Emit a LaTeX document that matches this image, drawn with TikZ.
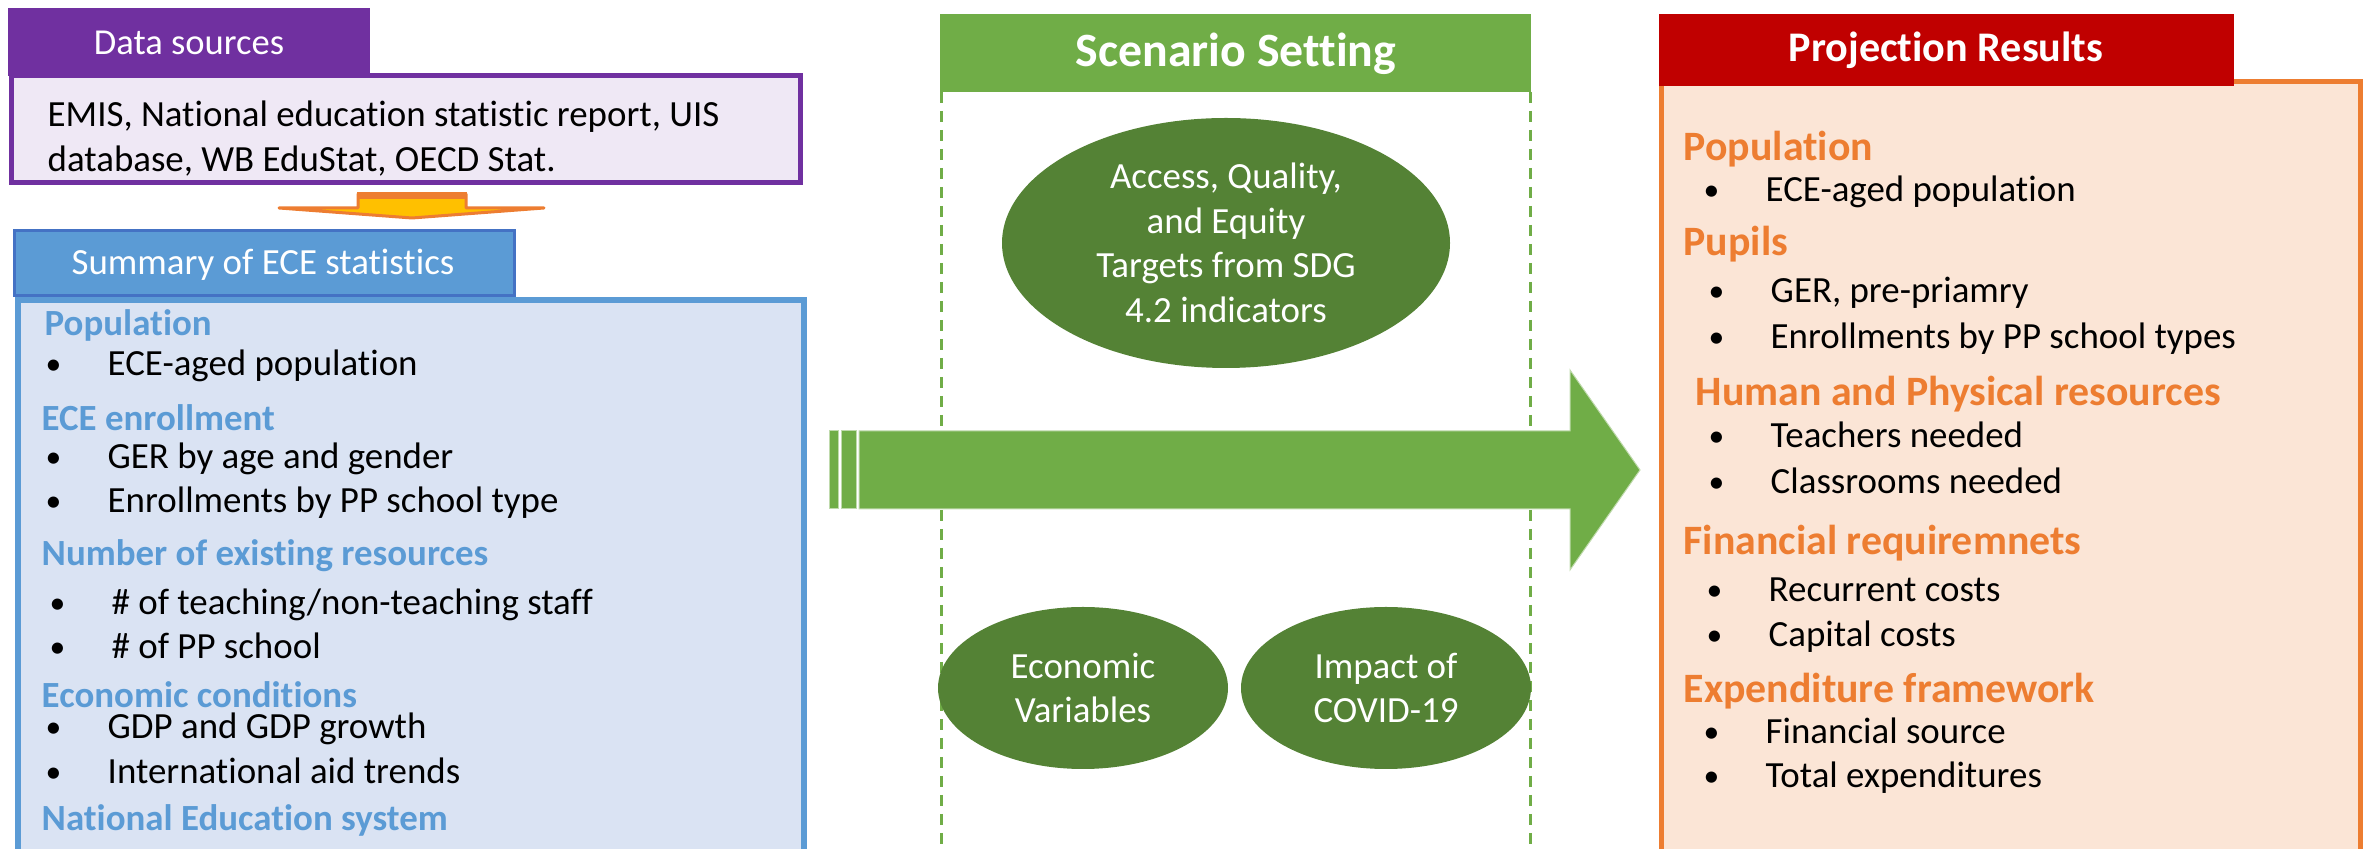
\documentclass[tikz,border=0pt]{standalone}
\usepackage{fontspec}
\setmainfont{Carlito}[Ligatures=NoCommon]
\usepackage[svgnames, dvipsnames]{xcolor}
\usetikzlibrary{calc, shapes.geometric, arrows.meta}
\tikzset{>=latex}

\definecolor{srcPurple}{HTML}{7030A0}
\definecolor{srcFill}{HTML}{EFE8F5}
\definecolor{sumBlue}{HTML}{5B9BD5}
\definecolor{sumDark}{HTML}{4472C4}
\definecolor{sumFill}{HTML}{DAE3F3}
\definecolor{scnGreen}{HTML}{70AD47}
\definecolor{scnDark}{HTML}{548235}
\definecolor{prjRed}{HTML}{C00000}
\definecolor{prjOrange}{HTML}{ED7D31}
\definecolor{prjFill}{HTML}{FBE5D6}
\definecolor{arwYellow}{HTML}{FFC000}

% bullet item: small dot, then the text at a fixed indent
\newcommand{\bul}[1]{\makebox[6.4mm][l]{\hspace{0.2mm}\raisebox{0.35pt}{\fontsize{9}{10}\selectfont\textbullet}}#1}

\tikzset{
  body/.style={inner sep=0pt, anchor=base west, font=\fontsize{10.5}{12.8}\selectfont},
  lhead/.style={body, text=sumBlue, font=\fontsize{10.5}{12.8}\selectfont\bfseries},
  rhead/.style={body, text=prjOrange, font=\fontsize{11.9}{14.5}\selectfont\bfseries},
  tabtext/.style={inner sep=0pt, text=white},
  goal/.style={ellipse, fill=scnDark, text=white, inner sep=0pt, align=center,
    font=\fontsize{10.5}{12.7}\selectfont},
  sep/.style={scnGreen, line width=0.3mm, dash pattern=on 1.1mm off 0.8mm}
}

\begin{document}
\begin{tikzpicture}[x=0.1mm, y=-0.1mm]
\useasboundingbox (0,0) rectangle (2367,849);
\clip (0,0) rectangle (2367,849);

% data sources
\fill[srcPurple] (8,8) rectangle (370,76);
\draw[srcPurple, fill=srcFill, line width=0.5mm] (11,76) rectangle (800,183);
\node[tabtext, font=\fontsize{10.4}{12.8}\selectfont] (dsTab) at (189,43) {Data sources};
\node[body, anchor=west, align=left] (dsBox) at (47,139)
  {EMIS, National education statistic report, UIS\\database, WB EduStat, OECD Stat.};

% small down arrow
\fill[arwYellow, draw=prjOrange, line width=0.3mm, line join=round]
  (358,194) -- (466,194) -- (466,208) -- (544,208) -- (412,218) -- (279,208) -- (358,208) -- cycle;
\fill[prjOrange] (357,192) rectangle (467,199);

% summary of statistics
\draw[sumBlue, fill=sumFill, line width=0.6mm] (18,300) rectangle (804,900);
\draw[sumDark, fill=sumBlue, line width=0.3mm] (14,231) rectangle (514,296);
\node[tabtext, font=\fontsize{10.5}{12.8}\selectfont] (sumTab) at (263,265) {Summary of ECE statistics};

\node[lhead] (lPop) at (44,336) {Population};
\node[body] (lPop1) at (43,376) {\bul{ECE-aged population}};
\node[lhead] (lEnr) at (41,431) {ECE enrollment};
\node[body] (lEnr1) at (43,469) {\bul{GER by age and gender}};
\node[body] (lEnr2) at (43,513) {\bul{Enrollments by PP school type}};
\node[lhead] (lRes) at (41,566) {Number of existing resources};
\node[body] (lRes1) at (47,615) {\bul{\# of teaching/non-teaching staff}};
\node[body] (lRes2) at (47,659) {\bul{\# of PP school}};
\node[lhead] (lEco) at (41,708) {Economic conditions};
\node[body] (lEco1) at (43,739) {\bul{GDP and GDP growth}};
\node[body] (lEco2) at (43,784) {\bul{International aid trends}};
\node[lhead] (lSys) at (41,831) {National Education system};

% scenario column
\fill[scnGreen] (940,14) rectangle (1531,92);
\node[tabtext, font=\fontsize{13.6}{16}\selectfont\bfseries] (scnTab) at (1236,54) {Scenario Setting};
\draw[sep] (941,92) -- (941,849);
\draw[sep] (1530,92) -- (1530,849);

\node[goal, minimum width=44.8mm, minimum height=25mm] (goalEll) at (1226,243)
  {Access, Quality,\\and Equity\\Targets from SDG\\4.2 indicators};
\node[goal, minimum width=29mm, minimum height=16.2mm] (econEll) at (1083,688)
  {Economic\\Variables};
\node[goal, minimum width=29mm, minimum height=16.2mm] (covidEll) at (1386,688)
  {Impact of\\COVID-19};

% projection results
\draw[prjOrange, fill=prjFill, line width=0.5mm] (1661,82) rectangle (2360,900);
\fill[prjRed] (1659,14) rectangle (2234,86);
\node[tabtext, font=\fontsize{12}{14.5}\selectfont\bfseries] (prjTab) at (1946,50) {Projection Results};

\node[rhead] (rPop) at (1683,161) {Population};
\node[body] (rPop1) at (1701,202) {\bul{ECE-aged population}};
\node[rhead] (rPup) at (1683,256) {Pupils};
\node[body] (rPup1) at (1706,303) {\bul{GER, pre-priamry}};
\node[body] (rPup2) at (1706,349) {\bul{Enrollments by PP school types}};
\node[rhead] (rRes) at (1695,406) {Human and Physical resources};
\node[body] (rRes1) at (1706,448) {\bul{Teachers needed}};
\node[body] (rRes2) at (1706,494) {\bul{Classrooms needed}};
\node[rhead] (rFin) at (1683,555) {Financial requiremnets};
\node[body] (rFin1) at (1704,602) {\bul{Recurrent costs}};
\node[body] (rFin2) at (1704,647) {\bul{Capital costs}};
\node[rhead] (rExp) at (1683,703) {Expenditure framework};
\node[body] (rExp1) at (1701,744) {\bul{Financial source}};
\node[body] (rExp2) at (1701,788) {\bul{Total expenditures}};

% big flow arrow
\coordinate (flowTail) at (859,470);
\coordinate (flowTip) at (1640,470);
\fill[scnGreen, draw=scnGreen!45!white, line width=0.1mm]
  ($(flowTail)+(0,-39)$) -- (1570,431) -- (1570,370) -- (flowTip) -- (1570,570) -- (1570,509)
  -- ($(flowTail)+(0,39)$) -- cycle;
\fill[scnGreen, draw=scnGreen!45!white, line width=0.1mm] (841,431) rectangle (856,509);
\fill[scnGreen, draw=scnGreen!45!white, line width=0.1mm] (829,431) rectangle (838,509);
\end{tikzpicture}
\end{document}
